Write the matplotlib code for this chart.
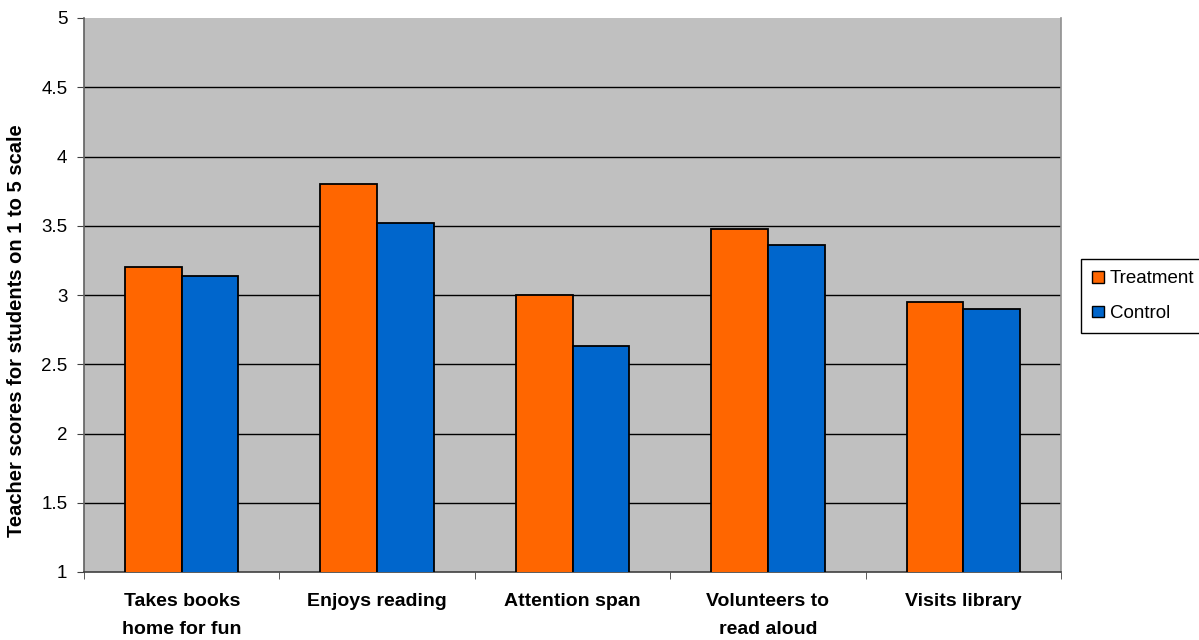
import numpy as np
import matplotlib.pyplot as plt
from matplotlib.patches import Patch

# Teacher ratings per item, 1-5 scale
items = ["Takes books\nhome for fun", "Enjoys reading", "Attention span",
         "Volunteers to\nread aloud", "Visits library"]
treatment = [3.20, 3.80, 3.00, 3.48, 2.95]
control = [3.14, 3.52, 2.63, 3.36, 2.90]

plt.rcParams['font.family'] = ['Liberation Sans', 'DejaVu Sans']

fig = plt.figure(figsize=(11.99, 6.4), dpi=100)
ax = fig.add_axes([84 / 1199, 1 - 572 / 640, (1061 - 84) / 1199, (572 - 18) / 640])
ax.set_facecolor("#C0C0C0")

x = np.arange(len(items))
w = 0.29
ax.bar(x - w / 2, treatment, w, bottom=0, color="#FF6600", edgecolor="black",
       linewidth=1.3, zorder=3)
ax.bar(x + w / 2, control, w, bottom=0, color="#0066CC", edgecolor="black",
       linewidth=1.3, zorder=3)

ax.set_ylim(1, 5)
ax.set_xlim(-0.5, len(items) - 0.5)
ax.set_yticks(np.arange(1, 5.01, 0.5))
ax.set_yticklabels(["1", "1.5", "2", "2.5", "3", "3.5", "4", "4.5", "5"])
for yv in np.arange(1.5, 4.51, 0.5):
    ax.axhline(yv, color="black", linewidth=1, zorder=1)

ax.set_xticks(x)
ax.set_xticklabels(items, fontweight="bold", fontsize=14, linespacing=1.85)
ax.set_xticks(np.arange(-0.5, len(items)), minor=True)
ax.tick_params(axis="x", which="major", length=0, pad=15)
ax.tick_params(axis="x", which="minor", length=5, color="#404040")
ax.tick_params(axis="y", length=5, color="#404040", pad=7, labelsize=13.5)

ax.spines["top"].set_visible(False)
ax.spines["left"].set_color("#606060")
ax.spines["right"].set_color("#909090")
ax.spines["bottom"].set_color("#404040")
for s in ax.spines.values():
    s.set_linewidth(1.2)

fig.text(17 / 1199, 1 - 331 / 640, "Teacher scores for students on 1 to 5 scale",
         rotation=90, fontweight="bold", fontsize=14.5, ha="center", va="center")

handles = [Patch(facecolor="#FF6600", edgecolor="black", label="Treatment"),
           Patch(facecolor="#0066CC", edgecolor="black", label="Control")]
leg = fig.legend(handles=handles, loc="upper left",
                 bbox_to_anchor=(1081 / 1199, 1 - 259 / 640),
                 bbox_transform=fig.transFigure, borderaxespad=0,
                 fontsize=13.5, fancybox=False, framealpha=1,
                 handlelength=0.6, handleheight=0.6, handletextpad=0.35,
                 borderpad=0.6, labelspacing=0.95)
leg.get_frame().set_edgecolor("black")
leg.get_frame().set_linewidth(1)

fig.savefig("out.png", dpi=100)
